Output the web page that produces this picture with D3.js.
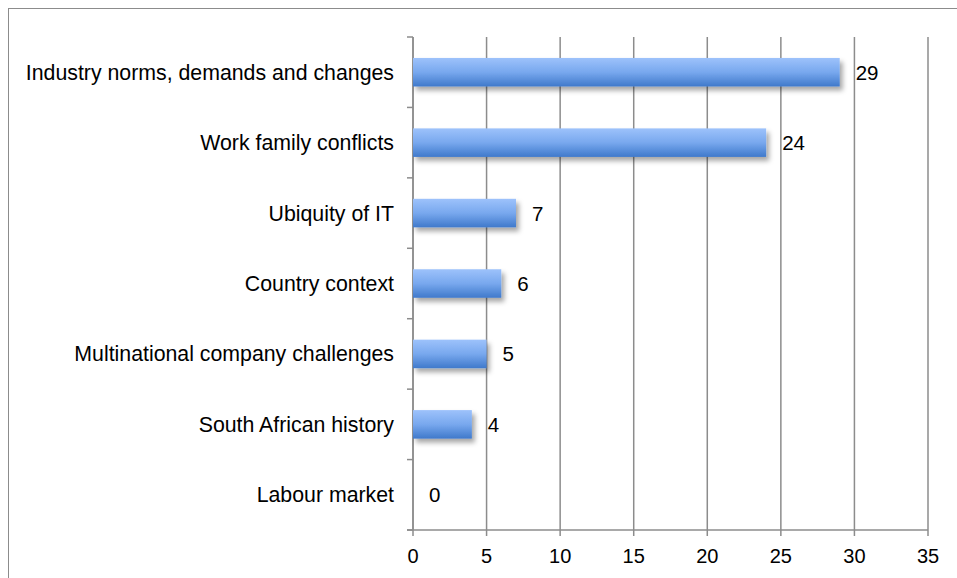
<!DOCTYPE html>
<html>
<head>
<meta charset="utf-8">
<script src="https://cdn.jsdelivr.net/npm/d3@7"></script>
<style>
  html, body { margin: 0; padding: 0; background: #fff; overflow: hidden; }
  svg { display: block; font-family: Arial, "Liberation Sans", Helvetica, sans-serif; }
</style>
</head>
<body>
<svg id="chart" width="957" height="578"></svg>
<script>
// Factors and the number of mentions for each
const categories = [
  "Industry norms, demands and changes",
  "Work family conflicts",
  "Ubiquity of IT",
  "Country context",
  "Multinational company challenges",
  "South African history",
  "Labour market"
];
const mentions = [29, 24, 7, 6, 5, 4, 0];
const xTicks = [0, 5, 10, 15, 20, 25, 30, 35];

const svg = d3.select("#chart");
const W = 957, H = 578;
const plot = { left: 413, right: 928, top: 37, bottom: 530 };

// Outer frame
svg.append("rect")
  .attr("x", 8.5).attr("y", 8.5)
  .attr("width", W + 10).attr("height", H + 10)
  .attr("fill", "none").attr("stroke", "#8c8c8c").attr("stroke-width", 1);

const defs = svg.append("defs");
const grad = defs.append("linearGradient")
  .attr("id", "barFill").attr("x1", 0).attr("y1", 0).attr("x2", 0).attr("y2", 1);
grad.append("stop").attr("offset", "0%").attr("stop-color", "#9dc2fb");
grad.append("stop").attr("offset", "50%").attr("stop-color", "#78a8ee");
grad.append("stop").attr("offset", "100%").attr("stop-color", "#3f79cb");

const shadow = defs.append("filter").attr("id", "barShadow")
  .attr("x", "-10%").attr("y", "-30%").attr("width", "130%").attr("height", "180%");
shadow.append("feDropShadow")
  .attr("dx", 3).attr("dy", 4).attr("stdDeviation", 2.5)
  .attr("flood-color", "#000").attr("flood-opacity", 0.35);

const x = d3.scaleLinear().domain([0, 35]).range([plot.left, plot.right]);
const y = d3.scaleBand().domain(categories)
  .range([plot.top, plot.bottom])
  .paddingInner(0.595).paddingOuter(0.2975);
const step = y.step();

const gridColor = "#8c8c8c";

// Vertical gridlines with tick marks below the axis
svg.append("g").selectAll("line").data(xTicks).join("line")
  .attr("x1", d => x(d)).attr("x2", d => x(d))
  .attr("y1", plot.top).attr("y2", plot.bottom + 6)
  .attr("stroke", gridColor).attr("stroke-width", 1.5);

// Category axis with boundary ticks
const yAxis = svg.append("g");
yAxis.append("line")
  .attr("x1", x(0)).attr("x2", x(0))
  .attr("y1", plot.top).attr("y2", plot.bottom)
  .attr("stroke", gridColor).attr("stroke-width", 1.5);
yAxis.selectAll("line.tick").data(d3.range(categories.length + 1)).join("line")
  .attr("class", "tick")
  .attr("x1", x(0) - 6).attr("x2", x(0))
  .attr("y1", i => plot.top + i * step).attr("y2", i => plot.top + i * step)
  .attr("stroke", gridColor).attr("stroke-width", 1.5);

// Value axis baseline
svg.append("line")
  .attr("x1", x(0) - 6).attr("x2", x(35))
  .attr("y1", plot.bottom).attr("y2", plot.bottom)
  .attr("stroke", gridColor).attr("stroke-width", 1.5);

// Tick labels
svg.append("g").selectAll("text").data(xTicks).join("text")
  .attr("x", d => x(d)).attr("y", 563)
  .attr("text-anchor", "middle")
  .attr("font-size", 20).attr("fill", "#000")
  .text(d => d);

// Category labels
svg.append("g").selectAll("text").data(categories).join("text")
  .attr("x", 394)
  .attr("y", d => y(d) + y.bandwidth() / 2 + 7.5)
  .attr("text-anchor", "end")
  .attr("font-size", 21.3).attr("fill", "#000")
  .text(d => d);

// Bars
const rows = categories.map((c, i) => ({ cat: c, val: mentions[i] }));
svg.append("g").selectAll("rect").data(rows.filter(d => d.val > 0)).join("rect")
  .attr("x", x(0))
  .attr("y", d => y(d.cat))
  .attr("width", d => x(d.val) - x(0))
  .attr("height", y.bandwidth())
  .attr("fill", "url(#barFill)")
  .attr("filter", "url(#barShadow)");

// Value labels
svg.append("g").selectAll("text").data(rows).join("text")
  .attr("x", d => x(d.val) + 16)
  .attr("y", d => y(d.cat) + y.bandwidth() / 2 + 7.5)
  .attr("font-size", 20.5).attr("fill", "#000")
  .text(d => d.val);
</script>
</body>
</html>
